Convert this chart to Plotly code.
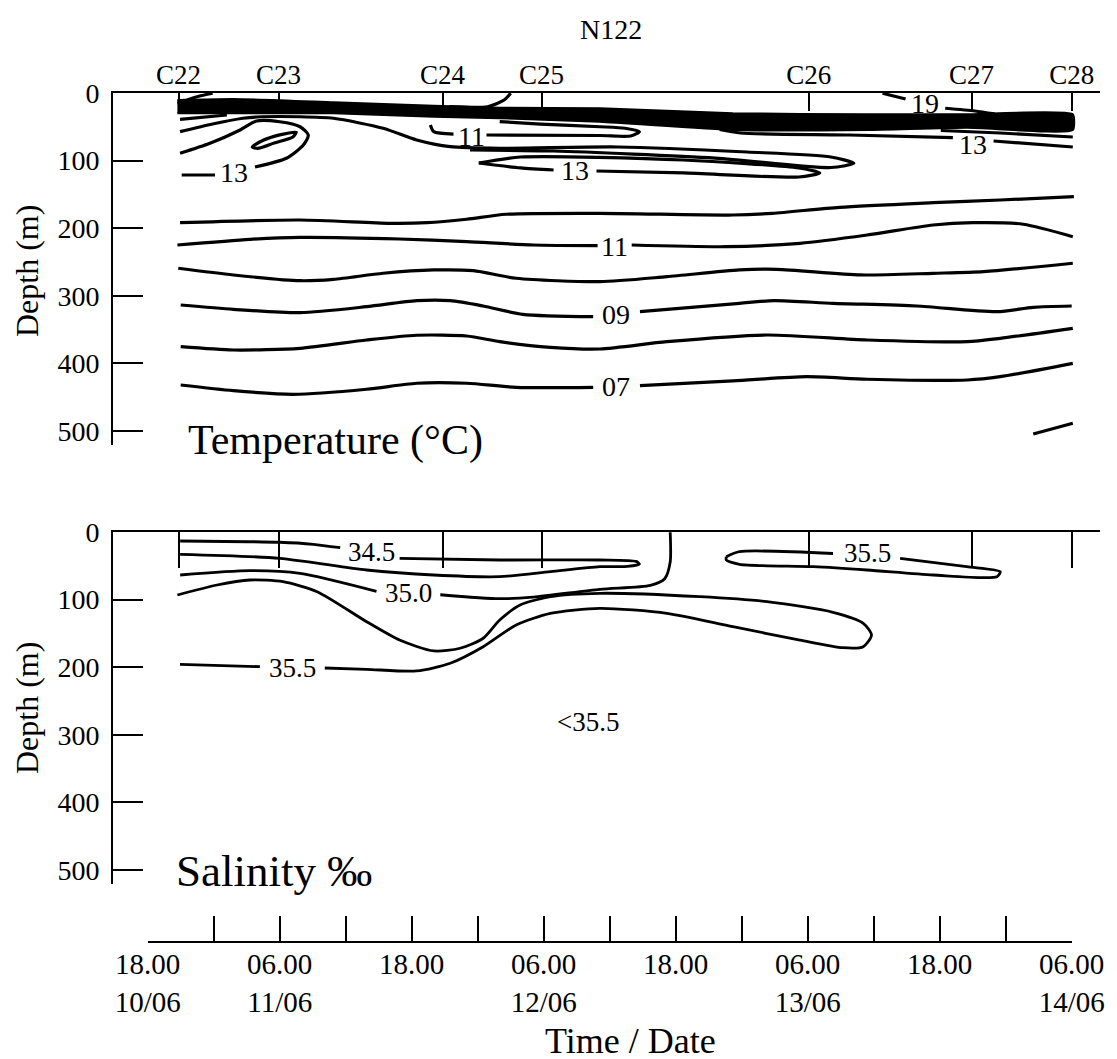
import plotly.graph_objects as go

W, H = 1117, 1059
OFF = 8  # page margin of the html body, compensated in the layout
FONT = "Liberation Serif"

# --- axes data (hours after 18.00 10/06, depth in m) ---
STATIONS = ["C22", "C23", "C24", "C25", "C26", "C27", "C28"]
STATION_HOURS = [2.8, 11.9, 26.8, 35.8, 60.1, 74.9, 84.0]
TIME_TICKS = [0, 6, 12, 18, 24, 30, 36, 42, 48, 54, 60, 66, 72, 78, 84]
TIME_LABELS = ["18.00<br>10/06", "", "06.00<br>11/06", "", "18.00", "",
               "06.00<br>12/06", "", "18.00", "", "06.00<br>13/06", "",
               "18.00", "", "06.00<br>14/06"]
DEPTH_TICKS = [0, 100, 200, 300, 400, 500]

# --- temperature section: contour lines as (hour, depth); None = label gap ---
BAND_TOP = [(2.7, 10.4), (7.8, 8.9), (16.9, 13.8), (26.0, 18.8), (32.0, 21.7),
            (41.1, 22.6), (53.2, 30.0), (65.4, 31.5), (74.5, 31.5), (84.1, 31.5)]
BAND_BOTTOM = [(2.7, 30.0), (7.8, 30.0), (16.9, 30.0), (26.0, 35.1), (32.0, 37.4),
               (41.1, 42.5), (53.2, 54.7), (65.4, 54.7), (74.5, 51.3), (84.1, 54.7)]

T_SURF_C22 = [(2.7, 15.2), (4.5, 5.5), (5.9, 0.4)]
T_SURF_C25 = [(27.4, 20.3), (30.9, 20.3), (32.4, 10.4), (33.0, 0.4)]
T_19 = [(66.8, 0.4), (68.9, 8.9), (None, None), (72.5, 22.6), (75.2, 26.6), (77.0, 31.0)]
T_EDGE = [(2.94, 38.9), (7.2, 32.5)]
T_12_TONGUE = [(2.94, 57.2), (5.9, 45.9), (8.66, 37.4), (9.9, 35.5), (13.85, 35.1),
               (16.9, 37.4), (21.4, 52.2), (24.45, 69.5), (27.5, 79.4), (32.0, 81.8),
               (42.75, 79.9), (54.5, 87.3), (62.1, 94.7), (64.2, 104.0), (62.1, 110.2),
               (51.6, 96.2), (36.85, 85.8), (29.3, 84.3)]
T_13_LEFT = [(3.09, 121.3), (6.12, 121.3), (None, None), (9.75, 109.5), (12.6, 96.6),
             (14.15, 76.9), (14.6, 62.1), (13.85, 49.9), (12.0, 42.5), (9.9, 41.4),
             (8.4, 54.7), (5.66, 74.4), (2.94, 89.2)]
T_14_LOOP = [(9.5, 80.0), (10.5, 70.0), (12.0, 62.0), (13.5, 58.0), (13.2, 65.0),
             (11.5, 74.0), (10.0, 82.0), (9.5, 80.0)]
T_11_TONGUE = [(25.7, 47.3), (26.0, 57.2), (27.8, 60.7), (None, None), (30.8, 62.1),
               (41.1, 62.9), (43.9, 63.6), (44.7, 57.2), (43.4, 52.2), (41.1, 49.9),
               (35.7, 45.9), (32.0, 42.2)]
T_13_MID = [(30.1, 103.6), (33.9, 94.7), (48.7, 99.1), (59.2, 110.9), (61.1, 118.3),
            (59.2, 124.3), (48.7, 118.3), (40.8, 115.4), (None, None), (36.9, 113.9),
            (33.9, 110.9), (30.1, 103.6)]
T_13_RIGHT = [(52.0, 54.0), (53.9, 59.2), (63.8, 62.1), (73.2, 66.1), (None, None),
              (76.9, 71.0), (84.1, 79.9)]
T_14_RIGHT = [(72.1, 55.5), (77.5, 59.2), (84.1, 65.1)]
T_12_DEEP = [(2.94, 191.9), (13.85, 187.9), (22.0, 192.8), (25.4, 191.9), (29.0, 186.8),
             (32.6, 179.4), (41.1, 178.0), (53.2, 180.5), (56.8, 178.0), (62.9, 169.1),
             (71.4, 162.3), (77.5, 158.3), (84.2, 153.4)]
T_11 = [(2.7, 224.9), (9.3, 216.4), (13.85, 213.5), (22.9, 216.0), (29.0, 220.0),
        (35.05, 224.9), (40.9, 225.9), (None, None), (44.0, 224.9), (52.6, 227.4),
        (59.3, 222.4), (65.4, 210.1), (71.4, 195.3), (75.0, 191.9), (79.6, 194.2),
        (84.1, 212.6)]
T_10 = [(2.78, 259.3), (7.8, 269.2), (13.85, 277.7), (16.9, 275.6), (21.4, 266.7),
        (26.0, 261.8), (29.6, 262.9), (33.5, 274.1), (41.1, 279.1), (47.2, 271.7),
        (53.8, 261.8), (57.2, 260.8), (64.8, 269.2), (71.4, 266.7), (76.0, 264.3),
        (84.1, 251.9)]
T_09 = [(3.0, 313.6), (7.8, 320.0), (13.85, 325.0), (19.9, 316.1), (24.45, 307.2),
        (27.5, 307.2), (30.5, 315.1), (34.1, 327.4), (40.5, 330.9), (None, None),
        (44.75, 323.5), (53.8, 311.1), (56.9, 307.2), (62.3, 311.1), (69.9, 315.1),
        (77.2, 323.5), (80.5, 317.0), (84.0, 315.1)]
T_08 = [(3.0, 375.3), (7.8, 380.2), (13.85, 377.7), (19.9, 365.4), (24.45, 358.4),
        (29.0, 359.5), (32.0, 367.9), (36.6, 376.2), (41.1, 378.7), (47.2, 367.9),
        (56.3, 358.0), (65.4, 365.4), (74.5, 367.9), (77.5, 362.9), (84.1, 348.1)]
T_07 = [(3.0, 432.0), (7.8, 440.4), (13.2, 445.7), (19.9, 438.3), (24.45, 429.4),
        (29.0, 429.4), (33.5, 435.4), (40.5, 435.4), (None, None), (44.75, 433.0),
        (53.2, 426.0), (59.9, 419.7), (65.4, 423.5), (74.5, 424.6), (77.5, 419.7),
        (84.1, 399.9)]
T_06 = [(80.5, 504.4), (84.1, 488.6)]

TEMP_LINES = [T_SURF_C22, T_SURF_C25, T_19, T_EDGE, T_12_TONGUE, T_13_LEFT, T_14_LOOP,
              T_11_TONGUE, T_13_MID, T_13_RIGHT, T_14_RIGHT, T_12_DEEP, T_11, T_10,
              T_09, T_08, T_07, T_06]
TEMP_LABELS = [("13", 7.8, 117.3), ("11", 29.4, 64.5), ("13", 38.8, 114.5),
               ("13", 75.05, 75.5), ("19", 70.7, 15.0), ("11", 42.4, 226.5),
               ("09", 42.6, 327.0), ("07", 42.6, 434.5)]

# --- salinity section ---
S_345 = [(2.95, 13.3), (12.0, 15.2), (15.05, 18.2), (17.5, 23.2), (None, None),
         (22.9, 38.9), (32.0, 41.4), (41.1, 41.4), (44.4, 43.5), (44.7, 47.5),
         (43.6, 51.0), (41.1, 51.3), (36.6, 58.7), (32.0, 66.1), (26.0, 63.6),
         (19.9, 56.2), (12.0, 38.9), (2.95, 33.0)]
S_350 = [(2.95, 63.6), (9.3, 57.2), (13.85, 61.1), (20.8, 87.7), (None, None),
         (26.6, 92.8), (32.0, 98.7), (35.05, 96.2), (41.1, 84.8), (45.7, 79.0),
         (47.0, 69.1), (47.5, 44.4), (47.5, 0.4)]
S_355 = [(2.7, 93.2), (6.3, 78.4), (9.3, 71.0), (12.3, 73.5), (15.4, 88.3),
         (19.9, 132.7), (22.9, 159.8), (26.0, 176.0), (28.4, 172.0), (30.5, 157.2),
         (32.0, 130.2), (33.85, 108.0), (36.6, 95.7), (41.1, 90.7), (50.2, 95.7),
         (56.3, 103.1), (62.3, 118.8), (65.05, 135.1), (65.8, 152.4), (65.05, 169.7),
         (63.2, 171.2), (59.3, 159.8), (53.2, 140.1), (47.2, 120.3), (41.1, 112.9),
         (36.6, 120.3), (33.5, 137.6), (30.5, 169.7), (27.5, 194.2), (24.45, 205.6),
         (19.9, 203.1), (16.1, 201.2), (None, None), (10.2, 199.2), (2.94, 195.7)]
S_355_RIGHT = [(52.6, 36.5), (53.8, 29.1), (62.3, 31.8), (None, None), (68.4, 38.9),
               (74.45, 51.3), (77.5, 58.7), (77.2, 66.1), (71.4, 63.6), (65.4, 56.2),
               (60.5, 51.3), (53.8, 47.8), (52.6, 41.4), (52.6, 36.5)]

SAL_LINES = [S_345, S_350, S_355, S_355_RIGHT]
SAL_LABELS = [("34.5", 20.3, 29.6), ("35.0", 23.7, 90.7), ("35.5", 13.2, 201.2),
              ("35.5", 65.4, 31.5), ("<35.5", 40.0, 280.6)]

# pixel frame of the original figure
X0_PX, PX_PER_H = 147.7, 11.0
X_RANGE = [(113 - X0_PX) / PX_PER_H, (1100 - X0_PX) / PX_PER_H]


def fx(px):
    return (px - OFF) / W


def fy(py):
    return 1 - (py - OFF) / H


def line_trace(pts, xa, ya, width):
    return go.Scatter(x=[p[0] for p in pts], y=[p[1] for p in pts], mode="lines",
                      xaxis=xa, yaxis=ya, hoverinfo="skip", showlegend=False,
                      line=dict(color="black", width=width, shape="spline", smoothing=0.7))


fig = go.Figure()

band = BAND_TOP + BAND_BOTTOM[::-1]
fig.add_trace(go.Scatter(x=[p[0] for p in band], y=[p[1] for p in band], mode="lines",
                         fill="toself", fillcolor="black", showlegend=False,
                         line=dict(color="black", width=2, shape="spline", smoothing=0.5),
                         hoverinfo="skip"))
for pts in TEMP_LINES:
    fig.add_trace(line_trace(pts, "x", "y", 3.2))
for pts in SAL_LINES:
    fig.add_trace(line_trace(pts, "x2", "y2", 2.8))
# dummy trace so the time axis is drawn
fig.add_trace(go.Scatter(x=[0, 84], y=[0, 0], xaxis="x3", yaxis="y3", mode="markers",
                         marker=dict(opacity=0), showlegend=False, hoverinfo="skip"))

tick_font = dict(family=FONT, size=28, color="black")
common_y = dict(range=[520, 0], showline=True, linecolor="black", linewidth=2,
                ticks="inside", ticklen=30, tickwidth=1.8, tickcolor="black",
                tickvals=DEPTH_TICKS, tickfont=tick_font, showgrid=False,
                zeroline=False, ticklabelstandoff=6, automargin=False)
common_x = dict(range=X_RANGE, domain=[fx(113), fx(1100)], side="top", showline=True,
                linecolor="black", linewidth=2, ticks="inside", tickwidth=1.5,
                tickcolor="black", showgrid=False, zeroline=False, automargin=False)

annotations = []
for txt, hx, dy in TEMP_LABELS:
    annotations.append(dict(x=hx, y=dy, xref="x", yref="y", text=txt, showarrow=False,
                            font=dict(family=FONT, size=28, color="black")))
for txt, hx, dy in SAL_LABELS:
    annotations.append(dict(x=hx, y=dy, xref="x2", yref="y2", text=txt, showarrow=False,
                            font=dict(family=FONT, size=27, color="black")))

texts = [
    ("N122", 611, 30, 28, 0, "center"),
    ("Depth (m)", 27, 271, 32, -90, "center"),
    ("Depth (m)", 27, 708, 32, -90, "center"),
    ("Temperature (°C)", 186, 440, 42, 0, "left"),
    ("Salinity ‰", 174, 871, 45, 0, "left"),
    ("Time / Date", 630, 1041, 36, 0, "center"),
]
for txt, px, py, size, ang, anchor in texts:
    annotations.append(dict(x=fx(px), y=fy(py), xref="paper", yref="paper", text=txt,
                            showarrow=False, textangle=ang, xanchor=anchor, yanchor="middle",
                            font=dict(family=FONT, size=size, color="black")))

fig.update_layout(
    width=W, height=H, margin=dict(l=0, r=0, t=0, b=0, autoexpand=False),
    paper_bgcolor="white", plot_bgcolor="white", showlegend=False,
    xaxis=dict(common_x, anchor="y", ticklen=18, tickvals=STATION_HOURS,
               ticktext=STATIONS, tickfont=dict(family=FONT, size=27, color="black"),
               ticklabelstandoff=-4),
    yaxis=dict(common_y, domain=[fy(444.5), fy(93)], anchor="x"),
    xaxis2=dict(common_x, anchor="y2", ticklen=36, tickvals=STATION_HOURS,
                showticklabels=False),
    yaxis2=dict(common_y, domain=[fy(883.5), fy(532)], anchor="x2"),
    xaxis3=dict(domain=[fx(X0_PX), fx(X0_PX + 84 * PX_PER_H)], range=[0, 84],
                anchor="y3", showline=True, linecolor="black", linewidth=2,
                ticks="inside", ticklen=25, tickwidth=1.5, tickcolor="black",
                tickvals=TIME_TICKS, ticktext=TIME_LABELS,
                tickfont=dict(family=FONT, size=29, color="black"),
                showgrid=False, zeroline=False, ticklabelstandoff=-4, automargin=False),
    yaxis3=dict(domain=[fy(941), fy(939)], visible=False, anchor="x3",
                automargin=False),
    annotations=annotations,
)

fig.write_html("out.html")
